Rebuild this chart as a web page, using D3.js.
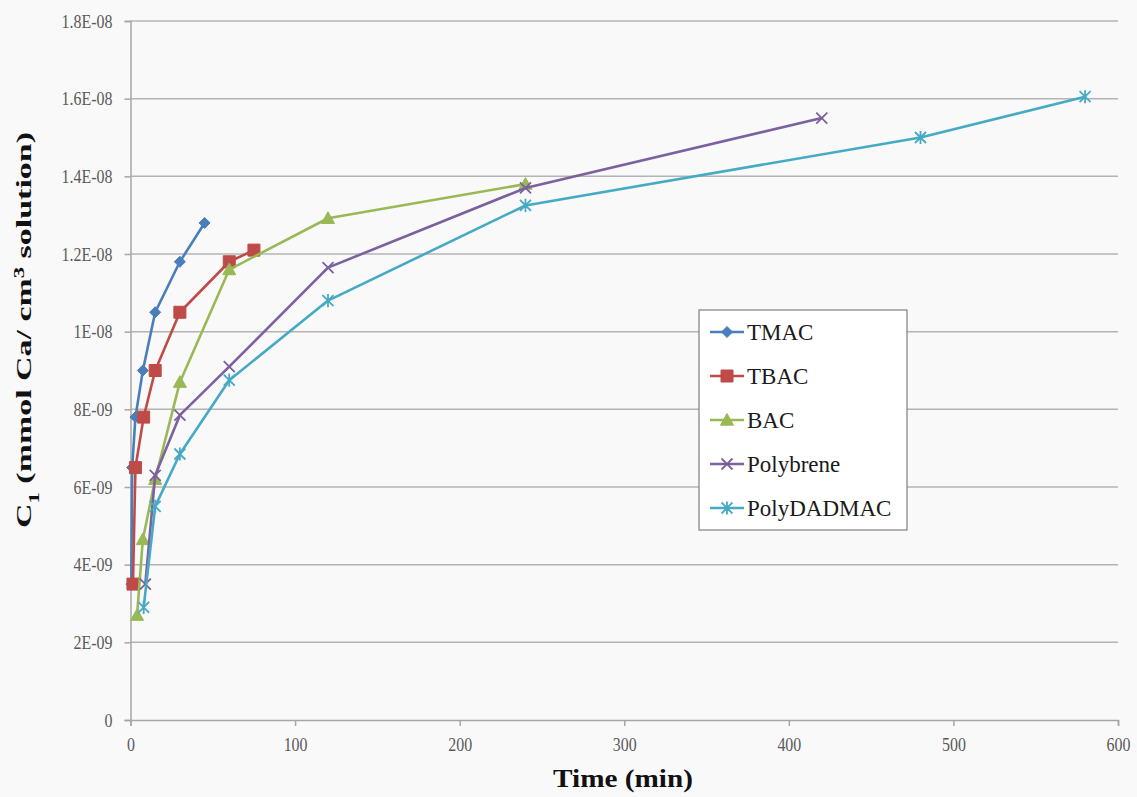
<!DOCTYPE html>
<html>
<head>
<meta charset="utf-8">
<script src="https://cdn.jsdelivr.net/npm/d3@7"></script>
<style>
  body { margin: 0; background: #f9f9f9; }
  svg { display: block; }
  text { font-family: "Liberation Serif", "Times New Roman", serif; }
</style>
</head>
<body>
<svg id="chart"></svg>
<script>
const WIDTH = 1137;
const HEIGHT = 797;

// values (time in min, C1 in mmol Ca / cm3)
const seriesNames = ['TMAC', 'TBAC', 'BAC', 'Polybrene', 'PolyDADMAC'];
const seriesColors = ['#4a7ebb', '#be4b48', '#98b954', '#7d60a0', '#46aac5'];
const seriesMarkers = ['diamond', 'square', 'triangle', 'cross', 'star'];

const tmacTime = [0.5, 1, 3, 7.5, 15, 30, 45];
const tmacC = [3.5e-9, 6.5e-9, 7.8e-9, 9.0e-9, 10.5e-9, 11.8e-9, 12.8e-9];

const tbacTime = [1.5, 3, 8, 15, 30, 60, 75];
const tbacC = [3.5e-9, 6.5e-9, 7.8e-9, 9.0e-9, 10.5e-9, 11.8e-9, 12.1e-9];

const bacTime = [4, 7.5, 15, 30, 60, 120, 240];
const bacC = [2.7e-9, 4.65e-9, 6.2e-9, 8.7e-9, 11.6e-9, 12.92e-9, 13.8e-9];

const polybreneTime = [9, 15, 30, 60, 120, 240, 420];
const polybreneC = [3.5e-9, 6.3e-9, 7.85e-9, 9.1e-9, 11.65e-9, 13.7e-9, 15.5e-9];

const polyDadmacTime = [8, 15, 30, 60, 120, 240, 480, 580];
const polyDadmacC = [2.9e-9, 5.5e-9, 6.85e-9, 8.75e-9, 10.8e-9, 13.25e-9, 15.0e-9, 16.05e-9];

const xTicks = [0, 100, 200, 300, 400, 500, 600];
const yTicks = [0, 2e-9, 4e-9, 6e-9, 8e-9, 1e-8, 1.2e-8, 1.4e-8, 1.6e-8, 1.8e-8];
const yTickLabels = ['0', '2E-09', '4E-09', '6E-09', '8E-09', '1E-08', '1.2E-08', '1.4E-08', '1.6E-08', '1.8E-08'];

const seriesTimes = [tmacTime, tbacTime, bacTime, polybreneTime, polyDadmacTime];
const seriesValues = [tmacC, tbacC, bacC, polybreneC, polyDadmacC];

const series = seriesNames.map((name, i) => ({
	name: name,
	color: seriesColors[i],
	marker: seriesMarkers[i],
	points: seriesTimes[i].map((t, j) => ({t: t, c: seriesValues[i][j]}))
}));

const plot = {left: 130.5, right: 1118, top: 21, bottom: 720};
const CONDENSE = 0.84;

const x = d3.scaleLinear().domain([0, 600]).range([plot.left, plot.right]);
const y = d3.scaleLinear().domain([0, 1.8e-8]).range([plot.bottom, plot.top]);

const svg = d3.select('#chart')
	.attr('width', WIDTH)
	.attr('height', HEIGHT);

svg.append('rect')
	.attr('width', WIDTH)
	.attr('height', HEIGHT)
	.attr('fill', '#f9f9f9');

// gridlines
svg.append('g')
	.selectAll('line')
	.data(yTicks.slice(1))
	.enter()
	.append('line')
	.attr('x1', plot.left)
	.attr('x2', plot.right)
	.attr('y1', d => y(d))
	.attr('y2', d => y(d))
	.attr('stroke', '#b4b4b4')
	.attr('stroke-width', 1.5);

// y axis
const yAxis = d3.axisLeft(y)
	.tickValues(yTicks)
	.tickSize(6)
	.tickPadding(12)
	.tickFormat((d, i) => yTickLabels[i]);

const gy = svg.append('g')
	.attr('transform', `translate(${plot.left},0)`)
	.call(yAxis);

// x axis
const xAxis = d3.axisBottom(x)
	.tickValues(xTicks)
	.tickSize(6)
	.tickPadding(12)
	.tickFormat(d3.format('d'));

const gx = svg.append('g')
	.attr('transform', `translate(0,${plot.bottom})`)
	.call(xAxis);

[gx, gy].forEach(g => {
	g.select('.domain').attr('stroke', '#a6a6a6').attr('stroke-width', 1.5);
	g.selectAll('.tick line').attr('stroke', '#a6a6a6').attr('stroke-width', 1.5);
	g.selectAll('.tick text')
		.attr('fill', '#595959')
		.style('font-size', '19px')
		.style('font-family', '"Liberation Serif", serif');
});

// the labels in the picture look narrow, so squeeze them sideways
gy.selectAll('.tick text')
	.attr('x', -18 / CONDENSE)
	.attr('transform', `scale(${CONDENSE},1)`);
gx.selectAll('.tick text')
	.attr('transform', `scale(${CONDENSE},1)`);

// markers
const markerPath = (type, r) => {
	if (type === 'diamond') {
		return `M0,${-r}L${r},0L0,${r}L${-r},0Z`;
	}
	if (type === 'square') {
		return `M${-r},${-r}H${r}V${r}H${-r}Z`;
	}
	if (type === 'triangle') {
		return `M0,${-r}L${r},${r * 0.8}L${-r},${r * 0.8}Z`;
	}
	if (type === 'cross') {
		return `M${-r},${-r}L${r},${r}M${-r},${r}L${r},${-r}`;
	}
	// star: cross plus vertical bar
	return `M${-r},${-r}L${r},${r}M${-r},${r}L${r},${-r}M0,${-r * 1.2}V${r * 1.2}`;
};

const markerSize = {diamond: 5.5, square: 6, triangle: 6.5, cross: 5.5, star: 5.5};

const drawMarker = (g, s, px, py) => {
	const filled = s.marker === 'diamond' || s.marker === 'square' || s.marker === 'triangle';
	g.append('path')
		.attr('transform', `translate(${px},${py})`)
		.attr('d', markerPath(s.marker, markerSize[s.marker]))
		.attr('fill', filled ? s.color : 'none')
		.attr('stroke', s.color)
		.attr('stroke-width', filled ? 1 : 1.8);
};

const line = d3.line()
	.x(d => x(d.t))
	.y(d => y(d.c));

const seriesG = svg.append('g');

series.forEach(s => {
	const g = seriesG.append('g');
	g.append('path')
		.datum(s.points)
		.attr('d', line)
		.attr('fill', 'none')
		.attr('stroke', s.color)
		.attr('stroke-width', 2.6)
		.attr('stroke-linejoin', 'round');
	s.points.forEach(p => drawMarker(g, s, x(p.t), y(p.c)));
});

// legend
const legend = svg.append('g');

legend.append('rect')
	.attr('x', 699)
	.attr('y', 310)
	.attr('width', 208)
	.attr('height', 220)
	.attr('fill', '#ffffff')
	.attr('stroke', '#7f7f7f')
	.attr('stroke-width', 1.2);

series.forEach((s, i) => {
	const ly = 332 + i * 44;
	const g = legend.append('g');
	g.append('line')
		.attr('x1', 710)
		.attr('x2', 744)
		.attr('y1', ly)
		.attr('y2', ly)
		.attr('stroke', s.color)
		.attr('stroke-width', 2.6);
	drawMarker(g, s, 727, ly);
	g.append('text')
		.attr('x', 747)
		.attr('y', ly)
		.attr('dy', '0.35em')
		.attr('fill', '#1a1a1a')
		.style('font-size', '23px')
		.text(s.name);
});

// axis titles
const xTitle = svg.append('text')
	.attr('text-anchor', 'middle')
	.attr('fill', '#111')
	.style('font-size', '26px')
	.style('font-weight', 'bold')
	.text('Time (min)');
const xLen = xTitle.node().getComputedTextLength();
xTitle.attr('transform', `translate(623,787) scale(${140 / xLen},1)`);

const yTitle = svg.append('text')
	.attr('text-anchor', 'middle')
	.attr('fill', '#111')
	.style('font-size', '21px')
	.style('font-weight', 'bold');
yTitle.append('tspan').text('C');
yTitle.append('tspan').attr('baseline-shift', 'sub').style('font-size', '14px').text('1');
yTitle.append('tspan').text(' (mmol Ca/ cm');
yTitle.append('tspan').attr('baseline-shift', 'super').style('font-size', '14px').text('3');
yTitle.append('tspan').text(' solution)');
const yLen = yTitle.node().getComputedTextLength();
yTitle.attr('transform', `translate(31,330) rotate(-90) scale(${396 / yLen},1)`);
</script>
</body>
</html>
